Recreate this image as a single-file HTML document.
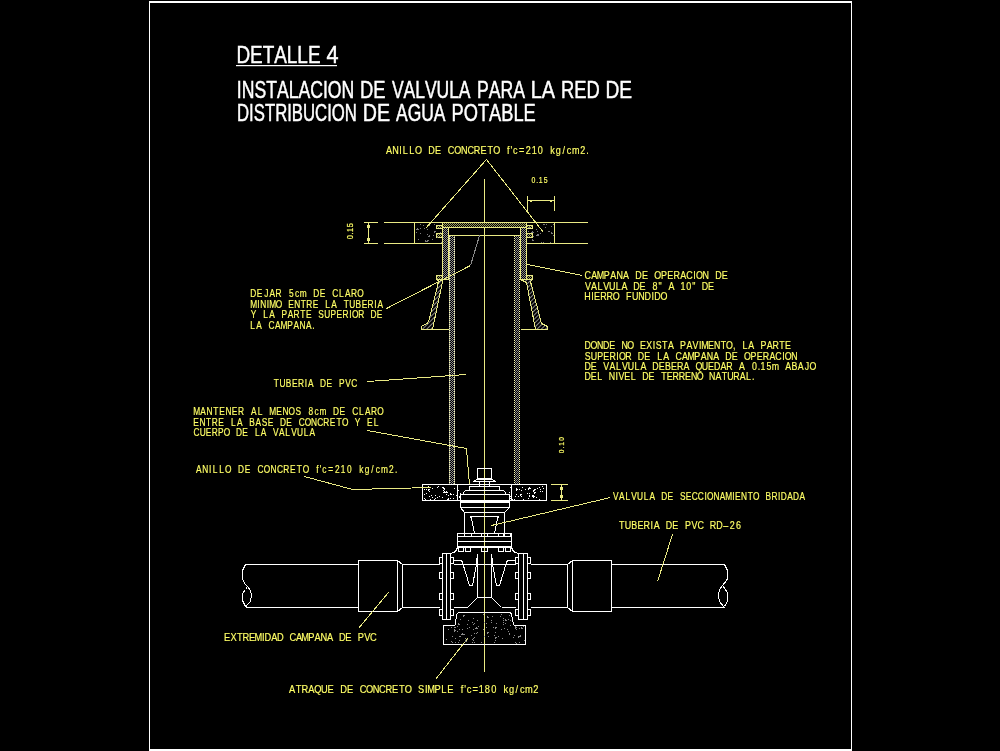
<!DOCTYPE html>
<html><head><meta charset="utf-8"><title>Detalle 4</title>
<style>
html,body{margin:0;padding:0;background:#000;width:1000px;height:751px;overflow:hidden}
svg{display:block;will-change:transform}
text{font-family:"Liberation Sans",sans-serif;font-kerning:none}
</style></head><body>
<svg width="1000" height="751" viewBox="0 0 1000 751">
<rect width="1000" height="751" fill="#000"/>
<g shape-rendering="crispEdges">
<defs>
<pattern id="hx" width="2" height="2" patternUnits="userSpaceOnUse">
<rect width="2" height="2" fill="#000"/><rect x="0" y="0" width="1" height="1" fill="#8c8c8c"/><rect x="1" y="1" width="1" height="1" fill="#8c8c8c"/></pattern>
<pattern id="hy" width="2" height="2" patternUnits="userSpaceOnUse">
<rect width="2" height="2" fill="#000"/><rect x="1" y="0" width="1" height="1" fill="#9a9a60"/><rect x="0" y="1" width="1" height="1" fill="#9a9a60"/></pattern>
<pattern id="hd" width="3" height="3" patternUnits="userSpaceOnUse" patternTransform="rotate(45)">
<rect width="3" height="3" fill="#000"/><rect width="1.4" height="3" fill="#8a8a8a"/></pattern>
</defs>
<line x1="383.5" y1="222.5" x2="587.5" y2="222.5" stroke="#eaea84" stroke-width="1"/>
<line x1="383.5" y1="243.5" x2="442.5" y2="243.5" stroke="#eaea84" stroke-width="1"/>
<line x1="526.5" y1="243.5" x2="587.5" y2="243.5" stroke="#eaea84" stroke-width="1"/>
<line x1="363.5" y1="222.5" x2="377.5" y2="222.5" stroke="#eaea84" stroke-width="1"/>
<line x1="363.5" y1="243.5" x2="377.5" y2="243.5" stroke="#eaea84" stroke-width="1"/>
<line x1="368.5" y1="222.5" x2="368.5" y2="243.5" stroke="#eaea84" stroke-width="1"/>
<rect x="367" y="225" width="3" height="3" fill="#eaea84"/>
<rect x="367" y="238" width="3" height="3" fill="#eaea84"/>
<line x1="414.5" y1="222.5" x2="414.5" y2="243.5" stroke="#eaea84" stroke-width="1"/>
<line x1="554.5" y1="222.5" x2="554.5" y2="243.5" stroke="#eaea84" stroke-width="1"/>
<line x1="527.5" y1="195.5" x2="527.5" y2="210.5" stroke="#eaea84" stroke-width="1"/>
<line x1="554.5" y1="195.5" x2="554.5" y2="210.5" stroke="#eaea84" stroke-width="1"/>
<line x1="527.5" y1="200.5" x2="554.5" y2="200.5" stroke="#eaea84" stroke-width="1"/>
<rect x="530" y="201" width="2" height="1" fill="#eaea84"/>
<rect x="550" y="201" width="2" height="1" fill="#eaea84"/>
<polyline points="425.5,228.5 486.5,159.5 543.5,232.5" stroke="#eaea84" stroke-width="1" fill="none"/>
<line x1="484.5" y1="178.5" x2="484.5" y2="671.5" stroke="#eaea84" stroke-width="1"/>
<polygon points="442.5,222.5 526.5,222.5 526.5,279.5 520.5,279.5 520.5,227.5 448.5,227.5 448.5,279.5 442.5,279.5" stroke="#eaea84" stroke-width="1" fill="url(#hx)"/>
<polygon points="442.5,222.5 526.5,222.5 526.5,227.5 442.5,227.5" stroke="#eaea84" stroke-width="1" fill="url(#hy)"/>
<polygon points="436.5,225.5 442.5,225.5 442.5,228.5 436.5,228.5" stroke="#eaea84" stroke-width="1" fill="url(#hy)"/>
<polygon points="532.5,225.5 526.5,225.5 526.5,228.5 532.5,228.5" stroke="#eaea84" stroke-width="1" fill="url(#hy)"/>
<polygon points="436.5,233.5 442.5,233.5 442.5,237.5 436.5,237.5" stroke="#eaea84" stroke-width="1" fill="url(#hy)"/>
<polygon points="532.5,233.5 526.5,233.5 526.5,237.5 532.5,237.5" stroke="#eaea84" stroke-width="1" fill="url(#hy)"/>
<polygon points="436.5,275.5 442.5,275.5 442.5,279.5 436.5,279.5" stroke="#eaea84" stroke-width="1" fill="url(#hy)"/>
<polygon points="532.5,275.5 526.5,275.5 526.5,279.5 532.5,279.5" stroke="#eaea84" stroke-width="1" fill="url(#hy)"/>
<polygon points="448.5,227.5 520.5,227.5 520.5,235.5 448.5,235.5" stroke="#eaea84" stroke-width="1" fill="none"/>
<polygon points="437.5,279.5 442.5,279.5 442.5,281.5 432.5,329.5 421.5,329.5 421.5,326.5 428.5,322.5 438.5,281.5" stroke="#eaea84" stroke-width="1" fill="url(#hd)"/>
<polygon points="520.5,279.5 532.5,279.5 530.5,281.5 541.5,323.5 547.5,326.5 547.5,329.5 535.5,329.5 526.5,282.5" stroke="#eaea84" stroke-width="1" fill="url(#hd)"/>
<line x1="421.5" y1="329.5" x2="449.5" y2="329.5" stroke="#eaea84" stroke-width="1"/>
<line x1="520.5" y1="329.5" x2="547.5" y2="329.5" stroke="#eaea84" stroke-width="1"/>
<rect x="449" y="235.5" width="6" height="249" fill="url(#hx)"/>
<line x1="449.5" y1="236" x2="449.5" y2="484" stroke="#fafab0" stroke-width="1" stroke-dasharray="1 1"/>
<line x1="454.5" y1="237" x2="454.5" y2="484" stroke="#fafab0" stroke-width="1" stroke-dasharray="1 1"/>
<rect x="514" y="235.5" width="6" height="249" fill="url(#hx)"/>
<line x1="514.5" y1="236" x2="514.5" y2="484" stroke="#fafab0" stroke-width="1" stroke-dasharray="1 1"/>
<line x1="519.5" y1="237" x2="519.5" y2="484" stroke="#fafab0" stroke-width="1" stroke-dasharray="1 1"/>
<line x1="449.5" y1="235.5" x2="520.5" y2="235.5" stroke="#eaea84" stroke-width="1"/>
<rect x="422.5" y="484.5" width="124.0" height="16.0" stroke="#ffffff" stroke-width="1" fill="none"/>
<line x1="457.5" y1="484.5" x2="457.5" y2="500.5" stroke="#ffffff" stroke-width="1"/>
<line x1="511.5" y1="484.5" x2="511.5" y2="500.5" stroke="#ffffff" stroke-width="1"/>
<line x1="550.5" y1="484.5" x2="567.5" y2="484.5" stroke="#eaea84" stroke-width="1"/>
<line x1="550.5" y1="500.5" x2="567.5" y2="500.5" stroke="#eaea84" stroke-width="1"/>
<line x1="561.5" y1="484.5" x2="561.5" y2="500.5" stroke="#eaea84" stroke-width="1"/>
<rect x="560" y="487" width="3" height="3" fill="#eaea84"/>
<rect x="560" y="495" width="3" height="3" fill="#eaea84"/>
<rect x="477.5" y="468.5" width="14.0" height="10.0" stroke="#ffffff" stroke-width="1" fill="none"/>
<polygon points="476.5,479.5 492.5,479.5 495.5,481.5 473.5,481.5" stroke="#ffffff" stroke-width="1" fill="none"/>
<rect x="479.5" y="481.5" width="10.0" height="5.0" stroke="#ffffff" stroke-width="1" fill="none"/>
<rect x="469.5" y="486.5" width="30.0" height="4.0" stroke="#ffffff" stroke-width="1" fill="none"/>
<polygon points="465.5,490.5 503.5,490.5 505.5,492.5 505.5,494.5 463.5,494.5 463.5,492.5" stroke="#ffffff" stroke-width="1" fill="none"/>
<rect x="460.5" y="494.5" width="49.0" height="13.0" stroke="#ffffff" stroke-width="1" fill="none"/>
<line x1="460.5" y1="501.5" x2="509.5" y2="501.5" stroke="#ffffff" stroke-width="1"/>
<line x1="460.5" y1="502.5" x2="509.5" y2="502.5" stroke="#ffffff" stroke-width="1"/>
<polyline points="460.5,507.5 464.5,512.5 504.5,512.5 509.5,507.5" stroke="#ffffff" stroke-width="1" fill="none"/>
<rect x="464.5" y="512.5" width="40.0" height="21.0" stroke="#ffffff" stroke-width="1" fill="none"/>
<polyline points="474.5,533.5 471.5,518.5 470.5,516.5 498.5,516.5 497.5,518.5 494.5,533.5" stroke="#ffffff" stroke-width="1" fill="none"/>
<rect x="457.5" y="533.5" width="54.0" height="14.0" stroke="#ffffff" stroke-width="1" fill="none"/>
<line x1="457.5" y1="536.5" x2="511.5" y2="536.5" stroke="#ffffff" stroke-width="1"/>
<line x1="457.5" y1="541.5" x2="511.5" y2="541.5" stroke="#ffffff" stroke-width="1"/>
<line x1="457.5" y1="546.5" x2="511.5" y2="546.5" stroke="#ffffff" stroke-width="1"/>
<rect x="457.5" y="533.5" width="7.0" height="3.0" stroke="#ffffff" stroke-width="1" fill="none"/>
<rect x="464.5" y="533.5" width="7.0" height="3.0" stroke="#ffffff" stroke-width="1" fill="none"/>
<rect x="481.5" y="533.5" width="6.0" height="3.0" stroke="#ffffff" stroke-width="1" fill="none"/>
<rect x="498.5" y="533.5" width="5.0" height="3.0" stroke="#ffffff" stroke-width="1" fill="none"/>
<rect x="504.5" y="533.5" width="6.0" height="3.0" stroke="#ffffff" stroke-width="1" fill="none"/>
<rect x="458.5" y="547.5" width="5.0" height="4.0" stroke="#ffffff" stroke-width="1" fill="none"/>
<rect x="465.5" y="547.5" width="5.0" height="4.0" stroke="#ffffff" stroke-width="1" fill="none"/>
<rect x="481.5" y="547.5" width="6.0" height="4.0" stroke="#ffffff" stroke-width="1" fill="none"/>
<rect x="498.5" y="547.5" width="5.0" height="4.0" stroke="#ffffff" stroke-width="1" fill="none"/>
<rect x="505.5" y="547.5" width="5.0" height="4.0" stroke="#ffffff" stroke-width="1" fill="none"/>
<polyline points="457.5,547.5 455.5,551.5 453.5,552.5 450.5,553.5" stroke="#ffffff" stroke-width="1" fill="none"/>
<polyline points="511.5,547.5 513.5,551.5 515.5,552.5 518.5,553.5" stroke="#ffffff" stroke-width="1" fill="none"/>
<line x1="245.5" y1="564.5" x2="358.5" y2="564.5" stroke="#ffffff" stroke-width="1"/>
<line x1="402.5" y1="564.5" x2="439.5" y2="564.5" stroke="#ffffff" stroke-width="1"/>
<line x1="453.5" y1="564.5" x2="515.5" y2="564.5" stroke="#ffffff" stroke-width="1"/>
<line x1="530.5" y1="564.5" x2="567.5" y2="564.5" stroke="#ffffff" stroke-width="1"/>
<line x1="611.5" y1="564.5" x2="724.5" y2="564.5" stroke="#ffffff" stroke-width="1"/>
<line x1="245.5" y1="607.5" x2="358.5" y2="607.5" stroke="#ffffff" stroke-width="1"/>
<line x1="402.5" y1="607.5" x2="439.5" y2="607.5" stroke="#ffffff" stroke-width="1"/>
<line x1="453.5" y1="607.5" x2="467.5" y2="607.5" stroke="#ffffff" stroke-width="1"/>
<line x1="501.5" y1="607.5" x2="515.5" y2="607.5" stroke="#ffffff" stroke-width="1"/>
<line x1="530.5" y1="607.5" x2="567.5" y2="607.5" stroke="#ffffff" stroke-width="1"/>
<line x1="611.5" y1="607.5" x2="724.5" y2="607.5" stroke="#ffffff" stroke-width="1"/>
<polyline points="245.5,564.5 242.5,570.5 242.5,578.5 244.5,583.5 247.5,586.5 250.5,590.5 251.5,595.5 250.5,601.5 246.5,605.5 245.5,607.5" stroke="#ffffff" stroke-width="1" fill="none"/>
<polyline points="247.5,586.5 245.5,589.5 242.5,593.5 242.5,600.5 245.5,606.5" stroke="#ffffff" stroke-width="1" fill="none"/>
<polyline points="724.5,564.5 727.5,570.5 727.5,578.5 726.5,580.5 722.5,585.5 719.5,589.5 718.5,595.5 719.5,601.5 723.5,606.5 724.5,607.5" stroke="#ffffff" stroke-width="1" fill="none"/>
<polyline points="722.5,585.5 727.5,592.5 727.5,596.5 727.5,601.5 724.5,606.5" stroke="#ffffff" stroke-width="1" fill="none"/>
<rect x="358.5" y="560.5" width="39.0" height="51.0" stroke="#ffffff" stroke-width="1" fill="none"/>
<polyline points="397.5,560.5 402.5,564.5 402.5,607.5 397.5,611.5" stroke="#ffffff" stroke-width="1" fill="none"/>
<rect x="572.5" y="560.5" width="39.0" height="51.0" stroke="#ffffff" stroke-width="1" fill="none"/>
<polyline points="572.5,560.5 567.5,564.5 567.5,607.5 572.5,611.5" stroke="#ffffff" stroke-width="1" fill="none"/>
<rect x="442.5" y="553.5" width="8.0" height="66.0" stroke="#ffffff" stroke-width="1" fill="none"/>
<line x1="446.5" y1="553.5" x2="446.5" y2="619.5" stroke="#ffffff" stroke-width="1"/>
<rect x="439.5" y="557.5" width="3.0" height="6.0" stroke="#ffffff" stroke-width="1" fill="none"/>
<rect x="450.5" y="557.5" width="3.0" height="6.0" stroke="#ffffff" stroke-width="1" fill="none"/>
<rect x="439.5" y="572.5" width="3.0" height="6.0" stroke="#ffffff" stroke-width="1" fill="none"/>
<rect x="450.5" y="572.5" width="3.0" height="6.0" stroke="#ffffff" stroke-width="1" fill="none"/>
<rect x="439.5" y="593.5" width="3.0" height="6.0" stroke="#ffffff" stroke-width="1" fill="none"/>
<rect x="450.5" y="593.5" width="3.0" height="6.0" stroke="#ffffff" stroke-width="1" fill="none"/>
<rect x="439.5" y="609.5" width="3.0" height="6.0" stroke="#ffffff" stroke-width="1" fill="none"/>
<rect x="450.5" y="609.5" width="3.0" height="6.0" stroke="#ffffff" stroke-width="1" fill="none"/>
<rect x="518.5" y="553.5" width="9.0" height="66.0" stroke="#ffffff" stroke-width="1" fill="none"/>
<line x1="523.5" y1="553.5" x2="523.5" y2="619.5" stroke="#ffffff" stroke-width="1"/>
<rect x="515.5" y="557.5" width="3.0" height="6.0" stroke="#ffffff" stroke-width="1" fill="none"/>
<rect x="527.5" y="557.5" width="3.0" height="6.0" stroke="#ffffff" stroke-width="1" fill="none"/>
<rect x="515.5" y="572.5" width="3.0" height="6.0" stroke="#ffffff" stroke-width="1" fill="none"/>
<rect x="527.5" y="572.5" width="3.0" height="6.0" stroke="#ffffff" stroke-width="1" fill="none"/>
<rect x="515.5" y="593.5" width="3.0" height="6.0" stroke="#ffffff" stroke-width="1" fill="none"/>
<rect x="527.5" y="593.5" width="3.0" height="6.0" stroke="#ffffff" stroke-width="1" fill="none"/>
<rect x="515.5" y="609.5" width="3.0" height="6.0" stroke="#ffffff" stroke-width="1" fill="none"/>
<rect x="527.5" y="609.5" width="3.0" height="6.0" stroke="#ffffff" stroke-width="1" fill="none"/>
<polyline points="453.5,560.5 461.5,560.5 462.5,562.5 469.5,585.5 472.5,585.5 476.5,564.5 477.5,554.5" stroke="#ffffff" stroke-width="1" fill="none"/>
<polyline points="514.5,560.5 507.5,560.5 506.5,562.5 499.5,585.5 496.5,585.5 492.5,564.5 491.5,554.5" stroke="#ffffff" stroke-width="1" fill="none"/>
<line x1="476.5" y1="557.5" x2="476.5" y2="564.5" stroke="#ffffff" stroke-width="1"/>
<line x1="492.5" y1="557.5" x2="492.5" y2="564.5" stroke="#ffffff" stroke-width="1"/>
<polyline points="467.5,607.5 477.5,597.5 477.5,554.5" stroke="#ffffff" stroke-width="1" fill="none"/>
<polyline points="501.5,607.5 491.5,597.5 491.5,554.5" stroke="#ffffff" stroke-width="1" fill="none"/>
<line x1="477.5" y1="597.5" x2="491.5" y2="597.5" stroke="#ffffff" stroke-width="1"/>
<polygon points="458.5,612.5 456.5,614.5 455.5,624.5 454.5,625.5 443.5,625.5 443.5,644.5 525.5,644.5 525.5,625.5 514.5,625.5 513.5,624.5 511.5,614.5 510.5,612.5" stroke="#ffffff" stroke-width="1" fill="none"/>
<line x1="386.5" y1="308.5" x2="470.5" y2="265.5" stroke="#eaea84" stroke-width="1"/>
<line x1="470.5" y1="265.5" x2="479.5" y2="235.5" stroke="#8a8a8a" stroke-width="1"/>
<line x1="527.5" y1="264.5" x2="582.5" y2="275.5" stroke="#eaea84" stroke-width="1"/>
<line x1="367.5" y1="381.5" x2="466.5" y2="374.5" stroke="#eaea84" stroke-width="1"/>
<polyline points="367.5,430.5 466.5,448.5 469.5,484.5" stroke="#eaea84" stroke-width="1" fill="none"/>
<polyline points="304.5,476.5 352.5,489.5 431.5,487.5" stroke="#eaea84" stroke-width="1" fill="none"/>
<line x1="610.5" y1="497.5" x2="491.5" y2="525.5" stroke="#eaea84" stroke-width="1"/>
<line x1="672.5" y1="534.5" x2="657.5" y2="581.5" stroke="#eaea84" stroke-width="1"/>
<line x1="388.5" y1="592.5" x2="358.5" y2="628.5" stroke="#eaea84" stroke-width="1"/>
<line x1="467.5" y1="638.5" x2="435.5" y2="679.5" stroke="#eaea84" stroke-width="1"/>
<rect x="427" y="234" width="1" height="1" fill="#7a7a7a"/>
<rect x="440" y="232" width="1" height="1" fill="#7a7a7a"/>
<rect x="429" y="235" width="1" height="1" fill="#7a7a7a"/>
<rect x="420" y="233" width="1" height="1" fill="#7a7a7a"/>
<rect x="432" y="239" width="1" height="1" fill="#7a7a7a"/>
<rect x="418" y="229" width="1" height="1" fill="#7a7a7a"/>
<rect x="418" y="239" width="1" height="1" fill="#7a7a7a"/>
<rect x="434" y="224" width="1" height="1" fill="#7a7a7a"/>
<rect x="441" y="242" width="1" height="1" fill="#7a7a7a"/>
<rect x="433" y="235" width="1" height="1" fill="#7a7a7a"/>
<rect x="420" y="224" width="1" height="1" fill="#7a7a7a"/>
<rect x="429" y="225" width="1" height="1" fill="#7a7a7a"/>
<rect x="420" y="228" width="1" height="1" fill="#7a7a7a"/>
<rect x="416" y="232" width="1" height="1" fill="#7a7a7a"/>
<rect x="427" y="240" width="1" height="1" fill="#7a7a7a"/>
<rect x="429" y="236" width="1" height="1" fill="#7a7a7a"/>
<rect x="428" y="236" width="1" height="1" fill="#7a7a7a"/>
<rect x="427" y="229" width="1" height="1" fill="#7a7a7a"/>
<rect x="441" y="242" width="1" height="1" fill="#7a7a7a"/>
<rect x="437" y="237" width="1" height="1" fill="#7a7a7a"/>
<rect x="424" y="228" width="1" height="1" fill="#7a7a7a"/>
<rect x="423" y="225" width="1" height="1" fill="#7a7a7a"/>
<rect x="434" y="231" width="2" height="1" fill="#7a7a7a"/>
<rect x="434" y="232" width="1" height="1" fill="#7a7a7a"/>
<rect x="425" y="240" width="1" height="2" fill="#7a7a7a"/>
<rect x="426" y="241" width="1" height="1" fill="#7a7a7a"/>
<rect x="417" y="228" width="1" height="1" fill="#7a7a7a"/>
<rect x="416" y="229" width="3" height="1" fill="#7a7a7a"/>
<rect x="427" y="240" width="2" height="1" fill="#7a7a7a"/>
<rect x="427" y="241" width="1" height="1" fill="#7a7a7a"/>
<rect x="538" y="234" width="1" height="1" fill="#7a7a7a"/>
<rect x="533" y="236" width="1" height="1" fill="#7a7a7a"/>
<rect x="536" y="229" width="1" height="1" fill="#7a7a7a"/>
<rect x="528" y="231" width="1" height="1" fill="#7a7a7a"/>
<rect x="551" y="226" width="1" height="1" fill="#7a7a7a"/>
<rect x="546" y="224" width="1" height="1" fill="#7a7a7a"/>
<rect x="540" y="233" width="1" height="1" fill="#7a7a7a"/>
<rect x="545" y="227" width="1" height="1" fill="#7a7a7a"/>
<rect x="541" y="242" width="1" height="1" fill="#7a7a7a"/>
<rect x="548" y="231" width="1" height="1" fill="#7a7a7a"/>
<rect x="537" y="231" width="1" height="1" fill="#7a7a7a"/>
<rect x="553" y="224" width="1" height="1" fill="#7a7a7a"/>
<rect x="550" y="242" width="1" height="1" fill="#7a7a7a"/>
<rect x="543" y="242" width="1" height="1" fill="#7a7a7a"/>
<rect x="528" y="227" width="1" height="1" fill="#7a7a7a"/>
<rect x="553" y="235" width="1" height="1" fill="#7a7a7a"/>
<rect x="543" y="224" width="1" height="1" fill="#7a7a7a"/>
<rect x="531" y="232" width="1" height="1" fill="#7a7a7a"/>
<rect x="528" y="235" width="1" height="1" fill="#7a7a7a"/>
<rect x="549" y="231" width="1" height="1" fill="#7a7a7a"/>
<rect x="529" y="227" width="1" height="1" fill="#7a7a7a"/>
<rect x="544" y="224" width="1" height="1" fill="#7a7a7a"/>
<rect x="537" y="234" width="1" height="1" fill="#7a7a7a"/>
<rect x="536" y="235" width="3" height="1" fill="#7a7a7a"/>
<rect x="551" y="232" width="1" height="2" fill="#7a7a7a"/>
<rect x="552" y="233" width="1" height="1" fill="#7a7a7a"/>
<rect x="532" y="231" width="1" height="2" fill="#7a7a7a"/>
<rect x="533" y="232" width="1" height="1" fill="#7a7a7a"/>
<rect x="532" y="239" width="1" height="2" fill="#7a7a7a"/>
<rect x="533" y="240" width="1" height="1" fill="#7a7a7a"/>
<rect x="432" y="488" width="1" height="1" fill="#ffffff"/>
<rect x="448" y="499" width="1" height="1" fill="#ffffff"/>
<rect x="430" y="499" width="1" height="1" fill="#ffffff"/>
<rect x="453" y="494" width="1" height="1" fill="#ffffff"/>
<rect x="437" y="487" width="1" height="1" fill="#ffffff"/>
<rect x="425" y="499" width="1" height="1" fill="#ffffff"/>
<rect x="431" y="495" width="1" height="1" fill="#ffffff"/>
<rect x="432" y="497" width="1" height="1" fill="#ffffff"/>
<rect x="443" y="490" width="1" height="1" fill="#ffffff"/>
<rect x="429" y="496" width="1" height="1" fill="#ffffff"/>
<rect x="426" y="489" width="1" height="1" fill="#ffffff"/>
<rect x="442" y="497" width="1" height="1" fill="#ffffff"/>
<rect x="444" y="489" width="1" height="1" fill="#ffffff"/>
<rect x="454" y="488" width="1" height="1" fill="#ffffff"/>
<rect x="424" y="489" width="1" height="1" fill="#ffffff"/>
<rect x="438" y="486" width="1" height="1" fill="#ffffff"/>
<rect x="429" y="491" width="1" height="1" fill="#ffffff"/>
<rect x="442" y="487" width="1" height="1" fill="#ffffff"/>
<rect x="435" y="498" width="1" height="1" fill="#ffffff"/>
<rect x="456" y="495" width="1" height="1" fill="#ffffff"/>
<rect x="446" y="494" width="1" height="1" fill="#ffffff"/>
<rect x="428" y="486" width="1" height="1" fill="#ffffff"/>
<rect x="424" y="498" width="1" height="1" fill="#ffffff"/>
<rect x="447" y="499" width="1" height="1" fill="#ffffff"/>
<rect x="424" y="494" width="1" height="1" fill="#ffffff"/>
<rect x="439" y="496" width="1" height="1" fill="#ffffff"/>
<rect x="434" y="499" width="1" height="1" fill="#ffffff"/>
<rect x="426" y="493" width="1" height="1" fill="#ffffff"/>
<rect x="448" y="498" width="1" height="1" fill="#ffffff"/>
<rect x="448" y="495" width="1" height="1" fill="#ffffff"/>
<rect x="450" y="498" width="1" height="1" fill="#ffffff"/>
<rect x="435" y="495" width="1" height="1" fill="#ffffff"/>
<rect x="453" y="498" width="1" height="1" fill="#ffffff"/>
<rect x="437" y="497" width="1" height="1" fill="#ffffff"/>
<rect x="450" y="493" width="1" height="2" fill="#ffffff"/>
<rect x="451" y="494" width="1" height="1" fill="#ffffff"/>
<rect x="444" y="491" width="1" height="1" fill="#ffffff"/>
<rect x="443" y="492" width="3" height="1" fill="#ffffff"/>
<rect x="443" y="487" width="1" height="2" fill="#ffffff"/>
<rect x="444" y="488" width="1" height="1" fill="#ffffff"/>
<rect x="428" y="489" width="2" height="1" fill="#ffffff"/>
<rect x="428" y="490" width="1" height="1" fill="#ffffff"/>
<rect x="446" y="491" width="1" height="2" fill="#ffffff"/>
<rect x="447" y="492" width="1" height="1" fill="#ffffff"/>
<rect x="535" y="492" width="1" height="1" fill="#ffffff"/>
<rect x="527" y="493" width="1" height="1" fill="#ffffff"/>
<rect x="529" y="493" width="1" height="1" fill="#ffffff"/>
<rect x="522" y="487" width="1" height="1" fill="#ffffff"/>
<rect x="512" y="499" width="1" height="1" fill="#ffffff"/>
<rect x="515" y="496" width="1" height="1" fill="#ffffff"/>
<rect x="534" y="492" width="1" height="1" fill="#ffffff"/>
<rect x="542" y="491" width="1" height="1" fill="#ffffff"/>
<rect x="516" y="494" width="1" height="1" fill="#ffffff"/>
<rect x="529" y="496" width="1" height="1" fill="#ffffff"/>
<rect x="523" y="499" width="1" height="1" fill="#ffffff"/>
<rect x="528" y="489" width="1" height="1" fill="#ffffff"/>
<rect x="525" y="489" width="1" height="1" fill="#ffffff"/>
<rect x="533" y="497" width="1" height="1" fill="#ffffff"/>
<rect x="537" y="488" width="1" height="1" fill="#ffffff"/>
<rect x="519" y="489" width="1" height="1" fill="#ffffff"/>
<rect x="543" y="488" width="1" height="1" fill="#ffffff"/>
<rect x="516" y="490" width="1" height="1" fill="#ffffff"/>
<rect x="542" y="486" width="1" height="1" fill="#ffffff"/>
<rect x="514" y="499" width="1" height="1" fill="#ffffff"/>
<rect x="539" y="487" width="1" height="1" fill="#ffffff"/>
<rect x="528" y="498" width="1" height="1" fill="#ffffff"/>
<rect x="540" y="491" width="1" height="1" fill="#ffffff"/>
<rect x="529" y="495" width="1" height="1" fill="#ffffff"/>
<rect x="536" y="497" width="1" height="1" fill="#ffffff"/>
<rect x="533" y="490" width="1" height="1" fill="#ffffff"/>
<rect x="540" y="489" width="1" height="1" fill="#ffffff"/>
<rect x="532" y="495" width="1" height="1" fill="#ffffff"/>
<rect x="521" y="490" width="1" height="1" fill="#ffffff"/>
<rect x="534" y="493" width="1" height="1" fill="#ffffff"/>
<rect x="533" y="491" width="1" height="1" fill="#ffffff"/>
<rect x="518" y="496" width="1" height="1" fill="#ffffff"/>
<rect x="521" y="496" width="1" height="1" fill="#ffffff"/>
<rect x="539" y="499" width="1" height="1" fill="#ffffff"/>
<rect x="516" y="488" width="1" height="2" fill="#ffffff"/>
<rect x="517" y="489" width="1" height="1" fill="#ffffff"/>
<rect x="533" y="495" width="1" height="1" fill="#ffffff"/>
<rect x="532" y="496" width="3" height="1" fill="#ffffff"/>
<rect x="534" y="489" width="2" height="1" fill="#ffffff"/>
<rect x="534" y="490" width="1" height="1" fill="#ffffff"/>
<rect x="520" y="494" width="2" height="1" fill="#ffffff"/>
<rect x="520" y="495" width="1" height="1" fill="#ffffff"/>
<rect x="529" y="487" width="1" height="1" fill="#ffffff"/>
<rect x="528" y="488" width="3" height="1" fill="#ffffff"/>
<rect x="458" y="490" width="1" height="1" fill="#ffffff"/>
<rect x="460" y="493" width="1" height="1" fill="#ffffff"/>
<rect x="459" y="496" width="1" height="1" fill="#ffffff"/>
<rect x="459" y="497" width="1" height="1" fill="#ffffff"/>
<rect x="510" y="487" width="1" height="1" fill="#ffffff"/>
<rect x="510" y="496" width="1" height="1" fill="#ffffff"/>
<rect x="509" y="492" width="1" height="1" fill="#ffffff"/>
<rect x="510" y="498" width="1" height="1" fill="#ffffff"/>
<rect x="477" y="620" width="1" height="1" fill="#8c8c8c"/>
<rect x="505" y="623" width="1" height="1" fill="#8c8c8c"/>
<rect x="508" y="619" width="1" height="1" fill="#8c8c8c"/>
<rect x="492" y="616" width="1" height="1" fill="#8c8c8c"/>
<rect x="496" y="623" width="1" height="1" fill="#8c8c8c"/>
<rect x="491" y="622" width="1" height="1" fill="#8c8c8c"/>
<rect x="467" y="624" width="1" height="1" fill="#8c8c8c"/>
<rect x="510" y="625" width="1" height="1" fill="#8c8c8c"/>
<rect x="486" y="623" width="1" height="1" fill="#8c8c8c"/>
<rect x="473" y="624" width="1" height="1" fill="#8c8c8c"/>
<rect x="503" y="618" width="1" height="1" fill="#8c8c8c"/>
<rect x="460" y="619" width="1" height="1" fill="#8c8c8c"/>
<rect x="486" y="623" width="1" height="1" fill="#8c8c8c"/>
<rect x="483" y="614" width="1" height="1" fill="#8c8c8c"/>
<rect x="501" y="614" width="1" height="1" fill="#8c8c8c"/>
<rect x="500" y="616" width="1" height="1" fill="#8c8c8c"/>
<rect x="474" y="623" width="1" height="1" fill="#8c8c8c"/>
<rect x="463" y="615" width="1" height="1" fill="#8c8c8c"/>
<rect x="484" y="622" width="1" height="1" fill="#8c8c8c"/>
<rect x="503" y="622" width="1" height="1" fill="#8c8c8c"/>
<rect x="508" y="619" width="1" height="1" fill="#8c8c8c"/>
<rect x="509" y="615" width="1" height="1" fill="#8c8c8c"/>
<rect x="468" y="620" width="1" height="1" fill="#8c8c8c"/>
<rect x="472" y="622" width="1" height="1" fill="#8c8c8c"/>
<rect x="491" y="620" width="1" height="1" fill="#8c8c8c"/>
<rect x="503" y="620" width="1" height="1" fill="#8c8c8c"/>
<rect x="473" y="618" width="1" height="1" fill="#8c8c8c"/>
<rect x="503" y="624" width="1" height="1" fill="#8c8c8c"/>
<rect x="467" y="624" width="1" height="1" fill="#8c8c8c"/>
<rect x="510" y="620" width="1" height="1" fill="#8c8c8c"/>
<rect x="487" y="616" width="1" height="2" fill="#8c8c8c"/>
<rect x="488" y="617" width="1" height="1" fill="#8c8c8c"/>
<rect x="463" y="615" width="2" height="1" fill="#8c8c8c"/>
<rect x="463" y="616" width="1" height="1" fill="#8c8c8c"/>
<rect x="458" y="623" width="1" height="2" fill="#8c8c8c"/>
<rect x="459" y="624" width="1" height="1" fill="#8c8c8c"/>
<rect x="505" y="619" width="1" height="2" fill="#8c8c8c"/>
<rect x="506" y="620" width="1" height="1" fill="#8c8c8c"/>
<rect x="454" y="627" width="1" height="1" fill="#8c8c8c"/>
<rect x="458" y="642" width="1" height="1" fill="#8c8c8c"/>
<rect x="481" y="642" width="1" height="1" fill="#8c8c8c"/>
<rect x="509" y="633" width="1" height="1" fill="#8c8c8c"/>
<rect x="464" y="634" width="1" height="1" fill="#8c8c8c"/>
<rect x="472" y="642" width="1" height="1" fill="#8c8c8c"/>
<rect x="519" y="642" width="1" height="1" fill="#8c8c8c"/>
<rect x="486" y="627" width="1" height="1" fill="#8c8c8c"/>
<rect x="478" y="626" width="1" height="1" fill="#8c8c8c"/>
<rect x="465" y="638" width="1" height="1" fill="#8c8c8c"/>
<rect x="523" y="626" width="1" height="1" fill="#8c8c8c"/>
<rect x="457" y="626" width="1" height="1" fill="#8c8c8c"/>
<rect x="467" y="639" width="1" height="1" fill="#8c8c8c"/>
<rect x="464" y="634" width="1" height="1" fill="#8c8c8c"/>
<rect x="484" y="636" width="1" height="1" fill="#8c8c8c"/>
<rect x="513" y="637" width="1" height="1" fill="#8c8c8c"/>
<rect x="502" y="638" width="1" height="1" fill="#8c8c8c"/>
<rect x="515" y="626" width="1" height="1" fill="#8c8c8c"/>
<rect x="495" y="640" width="1" height="1" fill="#8c8c8c"/>
<rect x="494" y="635" width="1" height="1" fill="#8c8c8c"/>
<rect x="514" y="635" width="1" height="1" fill="#8c8c8c"/>
<rect x="462" y="629" width="1" height="1" fill="#8c8c8c"/>
<rect x="488" y="636" width="1" height="1" fill="#8c8c8c"/>
<rect x="455" y="642" width="1" height="1" fill="#8c8c8c"/>
<rect x="495" y="632" width="1" height="1" fill="#8c8c8c"/>
<rect x="459" y="636" width="1" height="1" fill="#8c8c8c"/>
<rect x="516" y="629" width="1" height="1" fill="#8c8c8c"/>
<rect x="507" y="629" width="1" height="1" fill="#8c8c8c"/>
<rect x="452" y="642" width="1" height="1" fill="#8c8c8c"/>
<rect x="455" y="627" width="1" height="1" fill="#8c8c8c"/>
<rect x="476" y="633" width="1" height="1" fill="#8c8c8c"/>
<rect x="520" y="635" width="1" height="1" fill="#8c8c8c"/>
<rect x="501" y="629" width="1" height="1" fill="#8c8c8c"/>
<rect x="495" y="640" width="1" height="1" fill="#8c8c8c"/>
<rect x="452" y="636" width="1" height="1" fill="#8c8c8c"/>
<rect x="473" y="640" width="1" height="1" fill="#8c8c8c"/>
<rect x="473" y="638" width="1" height="1" fill="#8c8c8c"/>
<rect x="495" y="632" width="1" height="1" fill="#8c8c8c"/>
<rect x="524" y="640" width="1" height="1" fill="#8c8c8c"/>
<rect x="509" y="634" width="1" height="1" fill="#8c8c8c"/>
<rect x="446" y="639" width="1" height="1" fill="#8c8c8c"/>
<rect x="494" y="642" width="1" height="1" fill="#8c8c8c"/>
<rect x="483" y="629" width="1" height="1" fill="#8c8c8c"/>
<rect x="454" y="629" width="1" height="1" fill="#8c8c8c"/>
<rect x="457" y="631" width="1" height="1" fill="#8c8c8c"/>
<rect x="498" y="636" width="1" height="1" fill="#8c8c8c"/>
<rect x="455" y="638" width="1" height="1" fill="#8c8c8c"/>
<rect x="451" y="627" width="1" height="1" fill="#8c8c8c"/>
<rect x="476" y="633" width="1" height="1" fill="#8c8c8c"/>
<rect x="473" y="629" width="1" height="1" fill="#8c8c8c"/>
<rect x="474" y="637" width="1" height="1" fill="#8c8c8c"/>
<rect x="448" y="629" width="1" height="1" fill="#8c8c8c"/>
<rect x="477" y="632" width="1" height="1" fill="#8c8c8c"/>
<rect x="474" y="642" width="1" height="1" fill="#8c8c8c"/>
<rect x="493" y="627" width="1" height="1" fill="#8c8c8c"/>
<rect x="508" y="631" width="1" height="1" fill="#8c8c8c"/>
<rect x="451" y="641" width="1" height="1" fill="#8c8c8c"/>
<rect x="515" y="642" width="1" height="1" fill="#8c8c8c"/>
<rect x="520" y="636" width="1" height="1" fill="#8c8c8c"/>
<rect x="460" y="636" width="1" height="1" fill="#8c8c8c"/>
<rect x="472" y="639" width="1" height="1" fill="#8c8c8c"/>
<rect x="467" y="628" width="1" height="1" fill="#8c8c8c"/>
<rect x="504" y="628" width="1" height="1" fill="#8c8c8c"/>
<rect x="519" y="628" width="1" height="1" fill="#8c8c8c"/>
<rect x="471" y="635" width="1" height="1" fill="#8c8c8c"/>
<rect x="474" y="633" width="1" height="1" fill="#8c8c8c"/>
<rect x="459" y="629" width="1" height="1" fill="#8c8c8c"/>
<rect x="459" y="640" width="1" height="1" fill="#8c8c8c"/>
<rect x="469" y="627" width="1" height="1" fill="#8c8c8c"/>
<rect x="516" y="643" width="1" height="1" fill="#8c8c8c"/>
<rect x="515" y="627" width="2" height="1" fill="#8c8c8c"/>
<rect x="515" y="628" width="1" height="1" fill="#8c8c8c"/>
<rect x="518" y="636" width="2" height="1" fill="#8c8c8c"/>
<rect x="518" y="637" width="1" height="1" fill="#8c8c8c"/>
<rect x="462" y="633" width="1" height="1" fill="#8c8c8c"/>
<rect x="461" y="634" width="3" height="1" fill="#8c8c8c"/>
<rect x="487" y="632" width="2" height="1" fill="#8c8c8c"/>
<rect x="487" y="633" width="1" height="1" fill="#8c8c8c"/>
<rect x="495" y="637" width="2" height="1" fill="#8c8c8c"/>
<rect x="495" y="638" width="1" height="1" fill="#8c8c8c"/>
<rect x="521" y="627" width="1" height="2" fill="#8c8c8c"/>
<rect x="522" y="628" width="1" height="1" fill="#8c8c8c"/>
<rect x="454" y="630" width="2" height="1" fill="#8c8c8c"/>
<rect x="454" y="631" width="1" height="1" fill="#8c8c8c"/>
<rect x="476" y="627" width="1" height="1" fill="#8c8c8c"/>
<rect x="475" y="628" width="3" height="1" fill="#8c8c8c"/>
<rect x="495" y="627" width="2" height="1" fill="#8c8c8c"/>
<rect x="495" y="628" width="1" height="1" fill="#8c8c8c"/>
<rect x="465" y="640" width="1" height="2" fill="#8c8c8c"/>
<rect x="466" y="641" width="1" height="1" fill="#8c8c8c"/>
</g>
<rect x="149" y="1" width="703" height="2" fill="#ffffff"/>
<rect x="149" y="749" width="703" height="2" fill="#ffffff"/>
<rect x="149" y="1" width="1" height="750" fill="#ffffff"/>
<rect x="851" y="1" width="1" height="750" fill="#ffffff"/>
<text x="236.45" y="63.20" font-size="24.71" textLength="84.06" lengthAdjust="spacingAndGlyphs" fill="#ffffff" stroke="#ffffff" stroke-width="0.5">DETALLE</text>
<text x="326.60" y="63.20" font-size="24.71" textLength="12.03" lengthAdjust="spacingAndGlyphs" fill="#ffffff" stroke="#ffffff" stroke-width="0.5">4</text>
<rect x="236" y="65" width="101" height="1.2" fill="#ffffff"/>
<text x="236.77" y="97.70" font-size="24.42" textLength="117.46" lengthAdjust="spacingAndGlyphs" fill="#ffffff" stroke="#ffffff" stroke-width="0.5">INSTALACION</text>
<text x="360.09" y="97.70" font-size="24.42" textLength="25.49" lengthAdjust="spacingAndGlyphs" fill="#ffffff" stroke="#ffffff" stroke-width="0.5">DE</text>
<text x="391.92" y="97.70" font-size="24.42" textLength="78.61" lengthAdjust="spacingAndGlyphs" fill="#ffffff" stroke="#ffffff" stroke-width="0.5">VALVULA</text>
<text x="477.05" y="97.70" font-size="24.42" textLength="47.98" lengthAdjust="spacingAndGlyphs" fill="#ffffff" stroke="#ffffff" stroke-width="0.5">PARA</text>
<text x="530.68" y="97.70" font-size="24.42" textLength="24.16" lengthAdjust="spacingAndGlyphs" fill="#ffffff" stroke="#ffffff" stroke-width="0.5">LA</text>
<text x="561.00" y="97.70" font-size="24.42" textLength="38.68" lengthAdjust="spacingAndGlyphs" fill="#ffffff" stroke="#ffffff" stroke-width="0.5">RED</text>
<text x="605.43" y="97.70" font-size="24.42" textLength="26.59" lengthAdjust="spacingAndGlyphs" fill="#ffffff" stroke="#ffffff" stroke-width="0.5">DE</text>
<text x="237.03" y="120.80" font-size="24.13" textLength="119.94" lengthAdjust="spacingAndGlyphs" fill="#ffffff" stroke="#ffffff" stroke-width="0.5">DISTRIBUCION</text>
<text x="362.79" y="120.80" font-size="24.13" textLength="27.25" lengthAdjust="spacingAndGlyphs" fill="#ffffff" stroke="#ffffff" stroke-width="0.5">DE</text>
<text x="395.97" y="120.80" font-size="24.13" textLength="49.57" lengthAdjust="spacingAndGlyphs" fill="#ffffff" stroke="#ffffff" stroke-width="0.5">AGUA</text>
<text x="451.50" y="120.80" font-size="24.13" textLength="84.28" lengthAdjust="spacingAndGlyphs" fill="#ffffff" stroke="#ffffff" stroke-width="0.5">POTABLE</text>
<text transform="scale(0.82,1)" x="470.71 478.34 486.95 491.30 499.24 506.23 514.49 522.22 530.44 538.31 546.16 553.86 562.10 569.98 577.79 586.01 594.48 601.50 609.76 618.26 622.60 625.77 632.94 641.23 648.42 655.91 662.96 671.13 677.87 685.84 691.27 697.45 707.52 715.01" y="154.00" font-size="11.05" fill="#ffff66" stroke="#ffff66" stroke-width="0.18">ANILLO DE CONCRETO f'c=210 kg/cm2.</text>
<text transform="scale(0.82,1)" x="648.21 654.09 657.05 662.98" y="183.00" font-size="8.43" fill="#ffff66" stroke="#ffff66" stroke-width="0.18">0.15</text>
<text transform="scale(0.82,1)" x="305.26 313.19 322.21 328.74 335.95 343.65 352.34 359.63 365.69 374.34 382.01 389.94 397.37 405.14 413.48 420.83 428.05 435.62" y="297.00" font-size="10.17" fill="#ffff66" stroke="#ffff66" stroke-width="0.18">DEJAR 5cm DE CLARO</text>
<text transform="scale(0.82,1)" x="305.26 313.87 317.40 325.45 328.41 336.16 343.85 351.46 358.84 366.88 373.60 381.33 388.65 396.78 403.93 411.06 419.15 426.05 433.65 441.07 448.27 456.50 460.31" y="308.00" font-size="10.17" fill="#ffff66" stroke="#ffff66" stroke-width="0.18">MINIMO ENTRE LA TUBERIA</text>
<text transform="scale(0.82,1)" x="305.87 313.01 321.16 328.33 335.47 343.15 350.79 357.81 366.05 373.05 380.38 388.22 395.42 403.04 410.47 417.70 425.94 429.20 436.78 444.38 451.76 459.50" y="318.00" font-size="10.17" fill="#ffff66" stroke="#ffff66" stroke-width="0.18">Y LA PARTE SUPERIOR DE</text>
<text transform="scale(0.82,1)" x="305.26 312.52 319.70 327.33 335.25 341.98 350.25 357.97 365.27 373.12 380.79" y="328.60" font-size="10.17" fill="#ffff66" stroke="#ffff66" stroke-width="0.18">LA CAMPANA.</text>
<text transform="scale(0.82,1)" x="712.86 720.99 727.84 736.34 744.25 751.70 759.76 767.28 774.79 782.82 790.54 797.94 806.14 813.84 821.31 829.56 836.95 845.45 848.74 856.79 864.61 872.12 880.15" y="279.00" font-size="10.90" fill="#ffff66" stroke="#ffff66" stroke-width="0.18">CAMPANA DE OPERACION DE</text>
<text transform="scale(0.82,1)" x="713.37 720.79 728.56 735.65 742.78 750.84 757.93 765.28 772.30 780.00 787.56 795.67 803.08 807.62 815.13 822.47 829.88 836.90 844.31 848.84 855.86 863.56" y="290.00" font-size="10.90" fill="#ffff66" stroke="#ffff66" stroke-width="0.18">VALVULA DE 8&quot; A 10&quot; DE</text>
<text transform="scale(0.82,1)" x="712.52 720.92 724.55 731.98 739.68 747.28 755.37 763.37 770.70 778.40 785.92 794.50 797.87 805.46" y="300.00" font-size="10.90" fill="#ffff66" stroke="#ffff66" stroke-width="0.18">HIERRO FUNDIDO</text>
<text transform="scale(0.82,1)" x="712.78 720.14 727.92 735.22 742.97 750.51 757.85 765.03 772.95 780.38 788.06 795.96 799.67 807.45 814.63 821.96 829.43 837.07 844.55 852.45 855.26 863.42 870.81 878.90 885.48 893.97 897.52 905.49 912.63 919.96 927.44 935.08 942.07 950.35 957.31" y="349.00" font-size="10.76" fill="#ffff66" stroke="#ffff66" stroke-width="0.18">DONDE NO EXISTA PAVIMENTO, LA PARTE</text>
<text transform="scale(0.82,1)" x="713.17 720.49 728.25 735.81 743.16 751.64 754.86 762.58 770.47 777.83 785.72 793.33 801.50 808.79 816.18 823.66 831.64 838.37 846.73 854.50 861.82 869.74 877.14 884.50 892.39 899.99 907.24 915.30 922.86 930.20 938.31 945.57 953.93 957.15 965.06" y="359.60" font-size="10.76" fill="#ffff66" stroke="#ffff66" stroke-width="0.18">SUPERIOR DE LA CAMPANA DE OPERACION</text>
<text transform="scale(0.82,1)" x="712.78 720.57 728.13 735.83 743.35 751.21 758.40 765.62 773.78 780.97 788.32 795.53 803.33 810.90 818.38 825.62 833.63 840.98 848.09 855.91 863.52 870.77 878.77 885.81 893.65 901.34 908.69 916.99 924.13 927.56 934.68 941.26 950.07 957.77 965.14 972.82 981.55 987.27" y="370.00" font-size="10.76" fill="#ffff66" stroke="#ffff66" stroke-width="0.18">DE VALVULA DEBERA QUEDAR A 0.15m ABAJO</text>
<text transform="scale(0.82,1)" x="712.78 720.43 728.36 735.31 742.51 750.62 754.26 761.43 769.36 776.31 783.32 790.98 798.47 806.27 813.14 820.25 827.64 835.30 842.60 849.69 857.57 864.76 872.45 880.14 886.93 894.12 902.00 909.72 917.02" y="380.20" font-size="10.76" fill="#ffff66" stroke="#ffff66" stroke-width="0.18">DEL NIVEL DE TERRENO NATURAL.</text>
<text transform="scale(0.82,1)" x="333.92 340.93 348.64 356.17 363.49 371.80 375.70 382.88 390.40 398.23 405.62 413.44 421.17 428.41" y="387.00" font-size="10.17" fill="#ffff66" stroke="#ffff66" stroke-width="0.18">TUBERIA DE PVC</text>
<text transform="scale(0.82,1)" x="235.75 244.32 251.77 260.07 267.31 274.95 282.76 290.23 297.95 306.14 314.19 321.13 328.48 336.86 344.50 351.95 360.24 367.49 376.26 383.61 389.72 398.40 406.15 414.13 421.59 429.44 437.83 445.24 452.51 460.13" y="415.00" font-size="10.17" fill="#ffff66" stroke="#ffff66" stroke-width="0.18">MANTENER AL MENOS 8cm DE CLARO</text>
<text transform="scale(0.82,1)" x="235.75 243.23 251.37 258.18 266.01 273.39 281.66 288.91 296.08 303.89 311.60 319.17 326.53 333.91 341.41 349.23 356.60 364.21 371.56 379.40 386.91 394.36 402.18 410.24 416.95 424.69 432.64 439.82 447.58 455.65" y="425.60" font-size="10.17" fill="#ffff66" stroke="#ffff66" stroke-width="0.18">ENTRE LA BASE DE CONCRETO Y EL</text>
<text transform="scale(0.82,1)" x="236.07 243.55 251.05 258.21 265.94 272.95 280.61 287.89 295.57 302.87 310.92 318.03 325.13 332.86 340.28 348.02 355.12 362.26 370.28 377.38" y="436.00" font-size="10.17" fill="#ffff66" stroke="#ffff66" stroke-width="0.18">CUERPO DE LA VALVULA</text>
<text transform="scale(0.82,1)" x="239.00 246.62 255.00 259.45 267.34 274.36 282.26 290.26 298.41 305.95 314.05 321.73 329.90 337.73 345.51 353.67 362.05 369.09 377.00 385.57 389.84 393.12 400.28 408.51 415.67 423.11 429.89 438.24 444.93 452.75 458.25 464.53 474.42 481.76" y="473.00" font-size="10.17" fill="#ffff66" stroke="#ffff66" stroke-width="0.18">ANILLO DE CONCRETO f'c=210 kg/cm2.</text>
<text transform="scale(0.82,1)" x="747.52 754.94 762.67 769.78 776.92 784.93 792.04 799.14 806.42 814.10 821.40 829.14 836.36 843.63 851.05 859.13 862.34 870.03 877.74 884.31 892.89 896.46 903.80 911.79 918.36 926.02 933.61 940.72 948.91 952.23 960.10 967.07 974.94" y="500.00" font-size="10.17" fill="#ffff66" stroke="#ffff66" stroke-width="0.18">VALVULA DE SECCIONAMIENTO BRIDADA</text>
<text transform="scale(0.82,1)" x="754.88 761.94 769.75 777.37 784.76 793.33 797.15 804.62 812.01 819.96 827.64 835.36 843.19 850.49 858.33 865.71 873.39 882.16 889.83 897.47" y="529.00" font-size="10.90" fill="#ffff66" stroke="#ffff66" stroke-width="0.18">TUBERIA DE PVC RD–26</text>
<text transform="scale(0.82,1)" x="273.34 281.11 289.01 295.73 303.59 310.43 319.44 322.59 330.66 337.71 345.78 352.96 360.91 367.53 375.86 383.59 390.84 398.72 406.28 413.34 421.18 428.97 436.36 444.09 451.27" y="641.00" font-size="11.34" fill="#ffff66" stroke="#ffff66" stroke-width="0.18">EXTREMIDAD CAMPANA DE PVC</text>
<text transform="scale(0.82,1)" x="352.42 360.61 367.65 376.04 383.28 391.47 399.43 407.37 414.89 423.05 430.99 438.63 446.26 454.45 462.25 469.99 478.16 486.57 493.50 501.84 509.87 518.18 521.13 529.78 538.17 545.47 553.41 561.78 566.10 569.18 576.28 583.76 591.20 599.07 606.16 614.15 620.85 628.79 634.13 640.21 650.24" y="693.00" font-size="11.34" fill="#ffff66" stroke="#ffff66" stroke-width="0.18">ATRAQUE DE CONCRETO SIMPLE f'c=180 kg/cm2</text>
<text transform="translate(353,239) rotate(-90) scale(0.85,1)" x="-0.34 5.41 8.15 13.87" y="0" font-size="8.72" fill="#ffff66" stroke="#ffff66" stroke-width="0.2">0.15</text>
<text transform="translate(564.3,452.9) rotate(-90) scale(0.85,1)" x="-0.31 5.48 8.51 14.41" y="0" font-size="7.85" fill="#ffff66" stroke="#ffff66" stroke-width="0.2">0.10</text>
</svg></body></html>
